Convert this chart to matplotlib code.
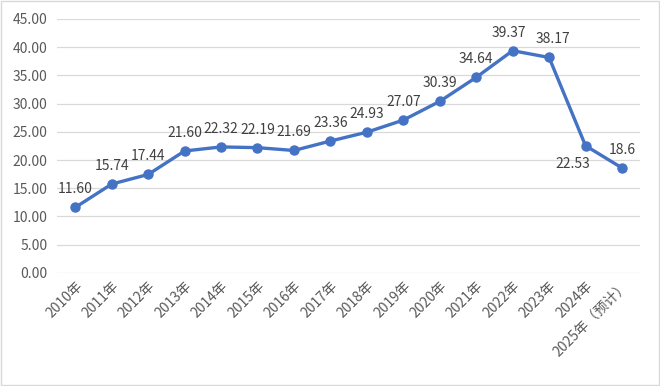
import matplotlib
matplotlib.use("Agg")
from matplotlib import pyplot as plt
from matplotlib.patches import Rectangle

plt.rcParams['font.family'] = ['Noto Sans CJK SC', 'DejaVu Sans']

years = ["2010年", "2011年", "2012年", "2013年", "2014年", "2015年", "2016年", "2017年",
         "2018年", "2019年", "2020年", "2021年", "2022年", "2023年", "2024年", "2025年（预计）"]
values = [11.60, 15.74, 17.44, 21.60, 22.32, 22.19, 21.69, 23.36,
          24.93, 27.07, 30.39, 34.64, 39.37, 38.17, 22.53, 18.6]
labels = ["11.60", "15.74", "17.44", "21.60", "22.32", "22.19", "21.69", "23.36",
          "24.93", "27.07", "30.39", "34.64", "39.37", "38.17", "22.53", "18.6"]

fig = plt.figure(figsize=(6.6, 3.86), dpi=100)
ax = fig.add_axes([0.0864, 0.293, 0.8836, 0.658])

x = list(range(len(years)))
ax.plot(x, values, color="#4472C4", lw=2.4, marker="o", ms=6.5, zorder=3)

for i, (v, t) in enumerate(zip(values, labels)):
    if i == 14:
        ax.annotate(t, (i, v), xytext=(-9, -8), textcoords="offset points",
                    ha="center", va="top", fontsize=10, color="#404040")
    else:
        dx = -3 if i == 12 else (3 if i == 13 else 0)
        ax.annotate(t, (i, v), xytext=(dx, 8), textcoords="offset points",
                    ha="center", va="bottom", fontsize=10, color="#404040")

ax.set_xlim(-0.5, len(years) - 0.5)
ax.set_ylim(0, 45)
ax.set_yticks([0, 5, 10, 15, 20, 25, 30, 35, 40, 45])
ax.set_yticklabels(["%.2f" % v for v in ax.get_yticks()], fontsize=10, color="#595959")
ax.set_xticks(x)
ax.set_xticklabels(years, rotation=45, ha="right", va="top", rotation_mode="anchor",
                   fontsize=10, color="#595959")
ax.tick_params(length=0, pad=7)
ax.tick_params(axis="x", pad=4)
ax.grid(axis="y", color="#D9D9D9", lw=0.9)
ax.set_axisbelow(True)
for s in ax.spines.values():
    s.set_visible(False)

fig.patches.append(Rectangle((0.002, 0.003), 0.996, 0.994, transform=fig.transFigure,
                             fill=False, edgecolor="#D9D9D9", lw=1))

fig.savefig("out.png", dpi=100)
